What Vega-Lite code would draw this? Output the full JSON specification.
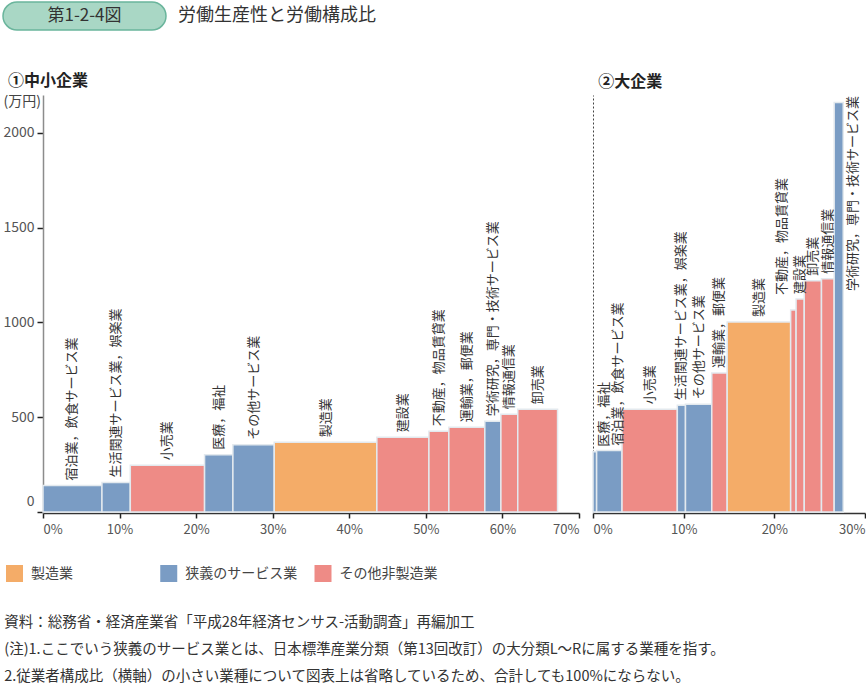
{
  "$schema": "https://vega.github.io/schema/vega-lite/v6.json",
  "background": "white",
  "padding": {"left": 2, "top": 1, "right": 0, "bottom": 0},
  "config": {
    "font": "Noto Sans CJK JP",
    "view": {"stroke": null},
    "axis": {"grid": false}
  },
  "title": {
    "text": [
      "資料：総務省・経済産業省「平成28年経済センサス-活動調査」再編加工",
      "(注)1.ここでいう狭義のサービス業とは、日本標準産業分類（第13回改訂）の大分類L～Rに属する業種を指す。",
      "2.従業者構成比（横軸）の小さい業種について図表上は省略しているため、合計しても100%にならない。"
    ],
    "orient": "bottom",
    "anchor": "start",
    "frame": "bounds",
    "fontSize": 14.5,
    "fontWeight": "normal",
    "color": "#333333",
    "lineHeight": 27,
    "offset": 34,
    "dx": 2
  },
  "datasets": {
    "sme": [
      {"industry": "宿泊業，飲食サービス業", "category": "狭義のサービス業", "x0": 0, "x1": 7.7, "value": 140},
      {"industry": "生活関連サービス業，娯楽業", "category": "狭義のサービス業", "x0": 7.7, "x1": 11.4, "value": 155},
      {"industry": "小売業", "category": "その他非製造業", "x0": 11.4, "x1": 21.1, "value": 247},
      {"industry": "医療，福祉", "category": "狭義のサービス業", "x0": 21.1, "x1": 24.8, "value": 302},
      {"industry": "その他サービス業", "category": "狭義のサービス業", "x0": 24.8, "x1": 30.2, "value": 355},
      {"industry": "製造業", "category": "製造業", "x0": 30.2, "x1": 43.6, "value": 368},
      {"industry": "建設業", "category": "その他非製造業", "x0": 43.6, "x1": 50.4, "value": 394},
      {"industry": "不動産，物品賃貸業", "category": "その他非製造業", "x0": 50.4, "x1": 53.0, "value": 426},
      {"industry": "運輸業，郵便業", "category": "その他非製造業", "x0": 53.0, "x1": 57.7, "value": 447},
      {"industry": "学術研究，専門・技術サービス業", "category": "狭義のサービス業", "x0": 57.7, "x1": 59.8, "value": 479},
      {"industry": "情報通信業", "category": "その他非製造業", "x0": 59.8, "x1": 62.0, "value": 516},
      {"industry": "卸売業", "category": "その他非製造業", "x0": 62.0, "x1": 67.2, "value": 542}
    ],
    "large": [
      {"industry": "医療，福祉", "category": "狭義のサービス業", "x0": 0, "x1": 0.4, "value": 318},
      {"industry": "宿泊業，飲食サービス業", "category": "狭義のサービス業", "x0": 0.4, "x1": 3.2, "value": 325},
      {"industry": "小売業", "category": "その他非製造業", "x0": 3.2, "x1": 9.3, "value": 542},
      {"industry": "生活関連サービス業，娯楽業", "category": "狭義のサービス業", "x0": 9.3, "x1": 10.2, "value": 563},
      {"industry": "その他サービス業", "category": "狭義のサービス業", "x0": 10.2, "x1": 13.1, "value": 568},
      {"industry": "運輸業，郵便業", "category": "その他非製造業", "x0": 13.1, "x1": 14.8, "value": 733},
      {"industry": "製造業", "category": "製造業", "x0": 14.8, "x1": 21.8, "value": 1003},
      {"industry": "不動産，物品賃貸業", "category": "その他非製造業", "x0": 21.8, "x1": 22.4, "value": 1066},
      {"industry": "建設業", "category": "その他非製造業", "x0": 22.4, "x1": 23.3, "value": 1124},
      {"industry": "卸売業", "category": "その他非製造業", "x0": 23.3, "x1": 25.2, "value": 1220},
      {"industry": "情報通信業", "category": "その他非製造業", "x0": 25.2, "x1": 26.6, "value": 1230},
      {"industry": "学術研究，専門・技術サービス業", "category": "狭義のサービス業", "x0": 26.6, "x1": 27.6, "value": 2160}
    ],
    "legendItems": [
      {"category": "製造業"},
      {"category": "狭義のサービス業"},
      {"category": "その他非製造業"}
    ],
    "header": [
      {"badge": "第1-2-4図", "title": "労働生産性と労働構成比"}
    ]
  },
  "spacing": 42,
  "vconcat": [
    {
      "width": 123,
      "height": 28,
      "data": {"name": "header"},
      "layer": [
        {
          "mark": {"type": "rect", "fill": "#a9d7c5", "stroke": "#6ab59c", "strokeWidth": 1.5, "cornerRadius": 14},
          "encoding": {
            "x": {"datum": 0, "type": "quantitative", "scale": {"domain": [0, 1], "range": [-40, 123]}, "axis": null},
            "x2": {"datum": 1}
          }
        },
        {
          "mark": {"type": "text", "fontSize": 17, "color": "#333333", "baseline": "middle"},
          "encoding": {
            "x": {"datum": 0.5, "type": "quantitative"},
            "text": {"field": "badge"}
          }
        },
        {
          "mark": {"type": "text", "fontSize": 18, "color": "#333333", "align": "left", "baseline": "middle", "dx": 12},
          "encoding": {
            "x": {"datum": 1, "type": "quantitative"},
            "text": {"field": "title"}
          }
        }
      ]
    },
    {
      "spacing": 29,
      "vconcat": [
        {
          "spacing": 12,
          "hconcat": [
            {
              "width": 536,
              "height": 417,
              "title": {"text": "①中小企業", "anchor": "start", "frame": "bounds", "fontSize": 16, "fontWeight": "bold", "color": "#222222", "offset": 5, "dx": 5},
              "data": {"name": "sme"},
              "layer": [
                {
                  "mark": {"type": "rect", "stroke": "#e3e9ee", "strokeWidth": 1.5},
                  "encoding": {
                    "x": {
                      "field": "x0", "type": "quantitative",
                      "scale": {"domain": [0, 70], "nice": false},
                      "axis": {"values": [0, 10, 20, 30, 40, 50, 60, 70], "labelExpr": "datum.value + '%'", "labelFlush": true, "title": null, "tickSize": 5, "tickColor": "#222222", "tickWidth": 1.5, "domainColor": "#333333", "domainWidth": 1.5, "labelFontSize": 13, "labelColor": "#555555", "labelPadding": 5, "offset": 1}
                    },
                    "x2": {"field": "x1"},
                    "y": {
                      "field": "value", "type": "quantitative",
                      "scale": {"domain": [0, 2200], "nice": false},
                      "axis": {"values": [0, 500, 1000, 1500, 2000], "format": "d", "title": "(万円)", "titleAngle": 0, "titleAlign": "left", "titleBaseline": "middle", "titleX": -40, "titleY": 6, "titleFontSize": 14, "titleFontWeight": "normal", "titleColor": "#444444", "tickSize": 6, "tickColor": "#222222", "tickWidth": 1.5, "domainColor": "#8c8c8c", "domainWidth": 1.5, "labelFontSize": 14, "labelColor": "#555555", "labelPadding": 3, "labelFlush": true, "labelFlushOffset": -4}
                    },
                    "y2": {"datum": 0},
                    "color": {
                      "field": "category", "type": "nominal",
                      "scale": {"domain": ["製造業", "狭義のサービス業", "その他非製造業"], "range": ["#f4ac68", "#7a9cc4", "#ee8b86"]},
                      "legend": null
                    }
                  }
                },
                {
                  "transform": [{"calculate": "(datum.x0 + datum.x1) / 2", "as": "xm"}],
                  "mark": {"type": "text", "angle": 270, "align": "left", "baseline": "middle", "dx": 5, "fontSize": 13, "color": "#333333"},
                  "encoding": {
                    "x": {"field": "xm", "type": "quantitative"},
                    "y": {"field": "value", "type": "quantitative"},
                    "text": {"field": "industry"}
                  }
                }
              ]
            },
            {
              "width": 272,
              "height": 417,
              "title": {"text": "②大企業", "anchor": "start", "frame": "bounds", "fontSize": 16, "fontWeight": "bold", "color": "#222222", "offset": 5, "dx": 6},
              "data": {"name": "large"},
              "layer": [
                {
                  "mark": {"type": "rect", "stroke": "#e3e9ee", "strokeWidth": 1.5},
                  "encoding": {
                    "x": {
                      "field": "x0", "type": "quantitative",
                      "scale": {"domain": [0, 30], "nice": false},
                      "axis": {"values": [0, 10, 20, 30], "labelExpr": "datum.value + '%'", "labelFlush": true, "title": null, "tickSize": 5, "tickColor": "#222222", "tickWidth": 1.5, "domainColor": "#333333", "domainWidth": 1.5, "labelFontSize": 13, "labelColor": "#555555", "labelPadding": 5, "offset": 1}
                    },
                    "x2": {"field": "x1"},
                    "y": {
                      "field": "value", "type": "quantitative",
                      "scale": {"domain": [0, 2200], "nice": false},
                      "axis": {"labels": false, "ticks": false, "title": null, "domainDash": [2, 2], "domainColor": "#444444", "domainWidth": 1}
                    },
                    "y2": {"datum": 0},
                    "color": {
                      "field": "category", "type": "nominal",
                      "scale": {"domain": ["製造業", "狭義のサービス業", "その他非製造業"], "range": ["#f4ac68", "#7a9cc4", "#ee8b86"]},
                      "legend": null
                    }
                  }
                },
                {
                  "transform": [
                    {"calculate": "(datum.x0 + datum.x1) / 2", "as": "xm"},
                    {"filter": "datum.industry !== '医療，福祉' && datum.industry !== '宿泊業，飲食サービス業' && datum.industry !== '不動産，物品賃貸業' && datum.industry !== '学術研究，専門・技術サービス業'"}
                  ],
                  "mark": {"type": "text", "angle": 270, "align": "left", "baseline": "middle", "dx": 5, "fontSize": 13, "color": "#333333"},
                  "encoding": {
                    "x": {"field": "xm", "type": "quantitative"},
                    "y": {"field": "value", "type": "quantitative"},
                    "text": {"field": "industry"}
                  }
                },
                {
                  "transform": [
                    {"calculate": "(datum.x0 + datum.x1) / 2", "as": "xm"},
                    {"filter": "datum.industry === '医療，福祉' || datum.industry === '宿泊業，飲食サービス業'"}
                  ],
                  "mark": {"type": "text", "angle": 270, "align": "left", "baseline": "middle", "dx": 5, "dy": 9, "fontSize": 13, "color": "#333333"},
                  "encoding": {
                    "x": {"field": "xm", "type": "quantitative"},
                    "y": {"field": "value", "type": "quantitative"},
                    "text": {"field": "industry"}
                  }
                },
                {
                  "transform": [
                    {"calculate": "(datum.x0 + datum.x1) / 2", "as": "xm"},
                    {"filter": "datum.industry === '不動産，物品賃貸業'"}
                  ],
                  "mark": {"type": "text", "angle": 270, "align": "left", "baseline": "middle", "dx": 15, "dy": -11.5, "fontSize": 13, "color": "#333333"},
                  "encoding": {
                    "x": {"field": "xm", "type": "quantitative"},
                    "y": {"field": "value", "type": "quantitative"},
                    "text": {"field": "industry"}
                  }
                },
                {
                  "transform": [
                    {"calculate": "(datum.x0 + datum.x1) / 2", "as": "xm"},
                    {"filter": "datum.industry === '学術研究，専門・技術サービス業'"}
                  ],
                  "mark": {"type": "text", "angle": 270, "align": "right", "baseline": "middle", "dx": 6.5, "dy": 14, "fontSize": 13, "color": "#333333"},
                  "encoding": {
                    "x": {"field": "xm", "type": "quantitative"},
                    "y": {"field": "value", "type": "quantitative"},
                    "text": {"field": "industry"}
                  }
                }
              ]
            }
          ]
        },
        {
          "width": 300,
          "height": 17,
          "data": {"name": "legendItems"},
          "layer": [
            {
              "mark": {"type": "square", "size": 289, "opacity": 1},
              "encoding": {
                "x": {"field": "category", "type": "nominal", "sort": null, "scale": {"type": "point", "padding": 0, "domain": ["製造業", "狭義のサービス業", "その他非製造業"], "range": [-28.5, 280]}, "axis": null},
                "color": {
                  "field": "category", "type": "nominal",
                  "scale": {"domain": ["製造業", "狭義のサービス業", "その他非製造業"], "range": ["#f4ac68", "#7a9cc4", "#ee8b86"]},
                  "legend": null
                }
              }
            },
            {
              "mark": {"type": "text", "align": "left", "baseline": "middle", "dx": 16.5, "fontSize": 14, "color": "#444444"},
              "encoding": {
                "x": {"field": "category", "type": "nominal", "sort": null, "scale": {"type": "point", "padding": 0, "domain": ["製造業", "狭義のサービス業", "その他非製造業"], "range": [-28.5, 280]}, "axis": null},
                "text": {"field": "category"}
              }
            }
          ]
        }
      ]
    }
  ]
}
